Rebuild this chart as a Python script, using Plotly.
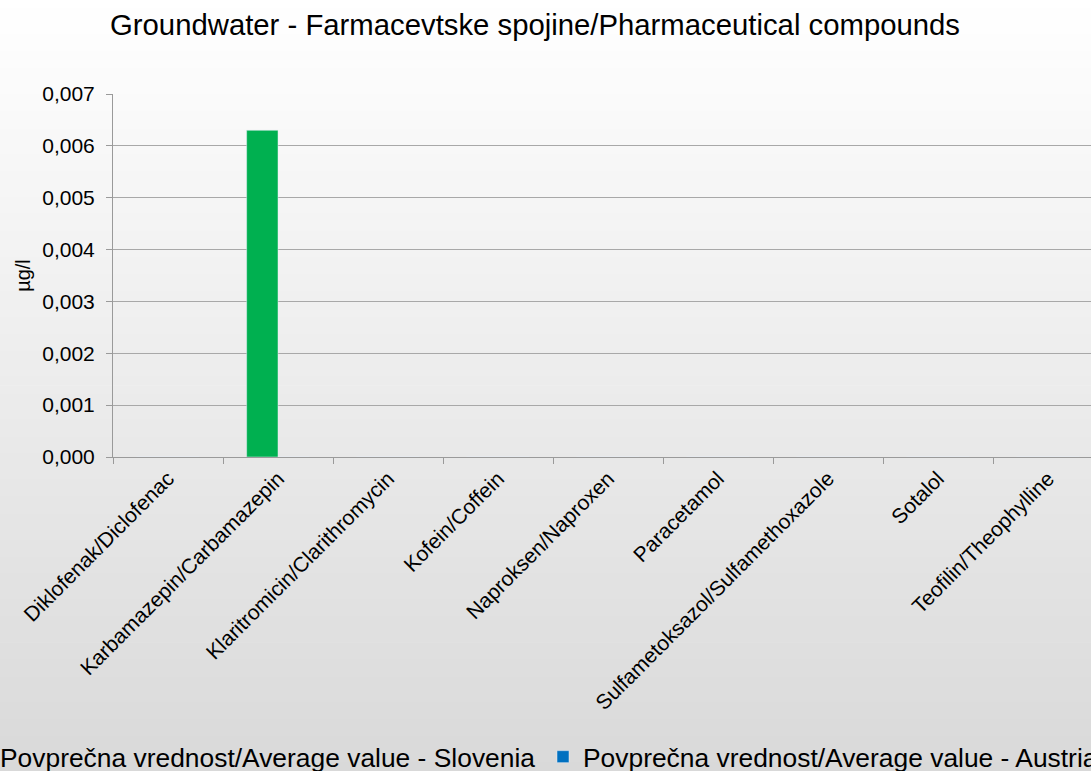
import plotly.graph_objects as go

categories = [
    "Diklofenak/Diclofenac",
    "Karbamazepin/Carbamazepin",
    "Klaritromicin/Clarithromycin",
    "Kofein/Coffein",
    "Naproksen/Naproxen",
    "Paracetamol",
    "Sulfametoksazol/Sulfamethoxazole",
    "Sotalol",
    "Teofilin/Theophylline",
]
slovenia = [0, 0.0063, 0, 0, 0, 0, 0, 0, 0]
austria = [0, 0, 0, 0, 0, 0, 0, 0, 0]
series_names = [
    "Povprečna vrednost/Average value - Slovenia",
    "Povprečna vrednost/Average value - Austria",
]
y_ticks = [0, 0.001, 0.002, 0.003, 0.004, 0.005, 0.006, 0.007]

W, H = 1091, 771
ML, MT, MB = 113, 94, 314
PW = W - ML
PH = H - MT - MB
FONT = "Liberation Sans, Arial, sans-serif"

fig = go.Figure()
fig.add_trace(go.Bar(x=categories, y=slovenia, name=series_names[0],
                     marker_color="#00B050", legend="legend"))
fig.add_trace(go.Bar(x=categories, y=austria, name=series_names[1],
                     marker_color="#0070C0", legend="legend2"))

# vertical gradient background (white -> light gray)
shapes = []
n = 90
for i in range(n):
    y0px = H * i / n
    y1px = H * (i + 1) / n
    t = (i + 0.5) / n
    c = round(255 - (255 - 217) * t)
    shapes.append(dict(
        type="rect", xref="paper", yref="paper", layer="below",
        x0=-ML / PW - 0.01, x1=1.01,
        y0=(H - MB - y1px) / PH - 0.001, y1=(H - MB - y0px) / PH + 0.001,
        fillcolor=f"rgb({c},{c},{c})", line=dict(width=0),
    ))

leg_y = (H - MB - 757) / PH

fig.update_layout(
    width=W, height=H,
    margin=dict(l=ML, r=0, t=MT, b=MB, autoexpand=False),
    paper_bgcolor="white", plot_bgcolor="rgba(0,0,0,0)",
    font=dict(family=FONT, color="black", size=21),
    separators=", ",
    barmode="group", bargap=0.43, bargroupgap=0,
    shapes=shapes,
    showlegend=True,
    title=dict(text="Groundwater - Farmacevtske spojine/Pharmaceutical compounds",
               x=535 / W, xanchor="center", xref="container",
               y=1 - 25 / H, yanchor="middle", yref="container",
               font=dict(size=29.3, family=FONT, color="black")),
    xaxis=dict(
        type="category", range=[-0.5, -0.5 + PW / 110],
        tickangle=-45, tickson="boundaries", ticks="outside", ticklen=6,
        tickcolor="#9a9a9a", showline=True, linecolor="#9a9a9a", linewidth=1,
        showgrid=False, tickfont=dict(size=21), fixedrange=True,
    ),
    yaxis=dict(
        range=[0, 0.007], tickvals=y_ticks, tickformat=".3f",
        ticks="outside", ticklen=6, tickcolor="#9a9a9a",
        showline=True, linecolor="#9a9a9a", linewidth=1,
        showgrid=True, gridcolor="#a8a8a8", gridwidth=1, zeroline=False,
        tickfont=dict(size=21), ticklabelstandoff=7, fixedrange=True,
        title=dict(text="µg/l", font=dict(size=20), standoff=6),
    ),
    legend=dict(orientation="h", x=(-40 - ML) / PW, xanchor="left",
                y=leg_y, yanchor="middle",
                bgcolor="rgba(0,0,0,0)", font=dict(size=26.4)),
    legend2=dict(orientation="h", x=(543 - ML) / PW, xanchor="left",
                 y=leg_y, yanchor="middle",
                 bgcolor="rgba(0,0,0,0)", font=dict(size=26.4)),
)

fig.write_html(
    "out.html",
    config={"displayModeBar": False},
    post_script="document.body.style.margin='0';document.body.style.overflow='hidden';",
)
